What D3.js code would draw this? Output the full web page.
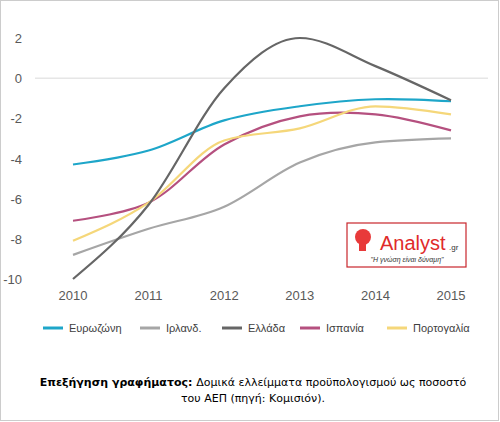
<!DOCTYPE html><html><head><meta charset="utf-8">
<script src="https://cdn.jsdelivr.net/npm/d3@7"></script>
<style>body{margin:0;background:#fff}svg{display:block}</style></head><body>
<svg id="c" width="500" height="422"></svg>
<script>
const years=[2010,2011,2012,2013,2014,2015];
const yTicks=[2,0,-2,-4,-6,-8,-10];
const names=["Ευρωζώνη","Ιρλανδ.","Ελλάδα","Ισπανία","Πορτογαλία"];
const colors=["#1ea6c9","#a6a6a6","#666666","#b5507f","#f5d77a"];
const eurozone=[-4.3,-3.6,-2.1,-1.4,-1.05,-1.15];
const ireland=[-8.8,-7.5,-6.4,-4.2,-3.2,-3.0];
const greece=[-10.0,-6.3,-0.5,2.0,0.6,-1.1];
const spain=[-7.1,-6.2,-3.3,-1.9,-1.8,-2.6];
const portugal=[-8.1,-6.2,-3.1,-2.5,-1.4,-1.8];
const series=[eurozone,ireland,greece,spain,portugal];
const svg=d3.select("#c");
svg.append("rect").attr("x",0.5).attr("y",0.5).attr("width",498).attr("height",420).attr("fill","#fff").attr("stroke","#ccc");
const x=d3.scalePoint().domain(years).range([73,451]);
const y=d3.scaleLinear().domain([-10,2]).range([279,38]);
svg.append("line").attr("x1",35).attr("x2",488).attr("y1",y(0)).attr("y2",y(0)).attr("stroke","#d9d9d9").attr("stroke-width",1);
svg.selectAll(".yt").data(yTicks).join("text").attr("x",22).attr("y",d=>y(d)+5).attr("text-anchor","end")
 .attr("font-family","Liberation Sans, Arial").attr("font-size",13).attr("fill","#595959").text(d=>d);
svg.selectAll(".xt").data(years).join("text").attr("x",d=>x(d)).attr("y",300).attr("text-anchor","middle")
 .attr("font-family","Liberation Sans, Arial").attr("font-size",13).attr("fill","#595959").text(d=>d);
const smooth=d3.line().x((d,i)=>x(years[i])).y(d=>y(d)).curve(d3.curveMonotoneX);
const straight=d3.line().x((d,i)=>x(years[i])).y(d=>y(d)).curve(d3.curveCatmullRom.alpha(0.5));
const order=[1,0,3,4,2];
order.forEach(i=>svg.append("path").attr("d",(i===0||i===3?straight:smooth)(series[i])).attr("fill","none").attr("stroke",colors[i]).attr("stroke-width",2.2));
// logo
const g=svg.append("g");
g.append("rect").attr("x",347).attr("y",223).attr("width",119).attr("height",44).attr("fill","#fff").attr("stroke","#c8262c").attr("stroke-width",1.2);
g.append("circle").attr("cx",363).attr("cy",237).attr("r",8).attr("fill","#e83a3a");
g.append("rect").attr("x",359).attr("y",241).attr("width",7).attr("height",10).attr("fill","#e83a3a");
g.append("text").attr("x",380).attr("y",250).attr("font-family","Liberation Sans, Arial").attr("font-size",20).attr("fill","#e02b2b").text("Analyst");
g.append("text").attr("x",449).attr("y",250).attr("font-family","Liberation Sans, Arial").attr("font-size",8).attr("fill","#333").text(".gr");
g.append("text").attr("x",407).attr("y",262).attr("text-anchor","middle").attr("font-family","Liberation Sans, Arial").attr("font-size",7).attr("fill","#333").attr("font-style","italic").text("\"Η γνώση είναι δύναμη\"");
// legend
const lx=[43,140,222,300,387];
names.forEach((n,i)=>{
 svg.append("line").attr("x1",lx[i]).attr("x2",lx[i]+20).attr("y1",328).attr("y2",328).attr("stroke",colors[i]).attr("stroke-width",3);
 svg.append("text").attr("x",lx[i]+26).attr("y",332).attr("font-family","Liberation Sans, Arial").attr("font-size",11).attr("fill","#404040").text(n);
});
const cap=svg.append("text").attr("x",253).attr("y",386).attr("text-anchor","middle").attr("font-family","DejaVu Sans, Verdana").attr("font-size",11).attr("fill","#000");
cap.append("tspan").attr("font-weight","bold").text("Επεξήγηση γραφήματος: ");
cap.append("tspan").text("Δομικά ελλείμματα προϋπολογισμού ως ποσοστό");
svg.append("text").attr("x",253).attr("y",402).attr("text-anchor","middle").attr("font-family","DejaVu Sans, Verdana").attr("font-size",11).attr("fill","#000").text("του ΑΕΠ (πηγή: Κομισιόν).");
</script></body></html>
